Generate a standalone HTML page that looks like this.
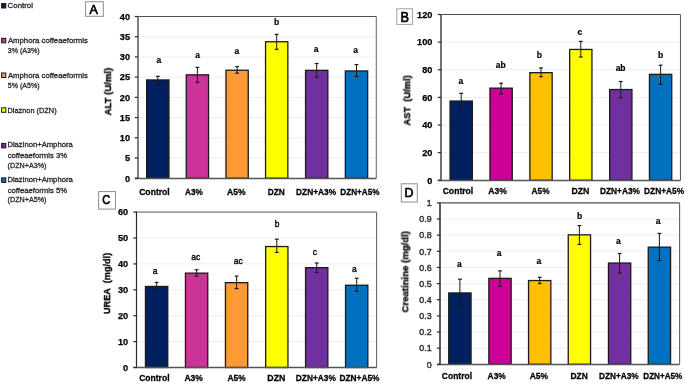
<!DOCTYPE html>
<html><head><meta charset="utf-8"><title>Chart</title>
<style>
html,body{margin:0;padding:0;background:#fff;}
body{width:685px;height:383px;overflow:hidden;}
svg{display:block;font-family:"Liberation Sans", sans-serif;}
text{will-change:transform;}
</style></head>
<body>
<svg width="685" height="383" viewBox="0 0 685 383">
<rect x="0" y="0" width="685" height="383" fill="#fff"/>
<line x1="139.00" y1="157.99" x2="375.30" y2="157.99" stroke="#ECECEC" stroke-width="0.9"/>
<line x1="139.00" y1="137.77" x2="375.30" y2="137.77" stroke="#ECECEC" stroke-width="0.9"/>
<line x1="139.00" y1="117.56" x2="375.30" y2="117.56" stroke="#ECECEC" stroke-width="0.9"/>
<line x1="139.00" y1="97.35" x2="375.30" y2="97.35" stroke="#ECECEC" stroke-width="0.9"/>
<line x1="139.00" y1="77.14" x2="375.30" y2="77.14" stroke="#ECECEC" stroke-width="0.9"/>
<line x1="139.00" y1="56.92" x2="375.30" y2="56.92" stroke="#ECECEC" stroke-width="0.9"/>
<line x1="139.00" y1="36.71" x2="375.30" y2="36.71" stroke="#ECECEC" stroke-width="0.9"/>
<rect x="146.65" y="79.95" width="22.30" height="98.25" fill="#002060" stroke="#1a1a1a" stroke-width="1.3"/>
<rect x="186.25" y="74.85" width="22.30" height="103.35" fill="#CC3399" stroke="#1a1a1a" stroke-width="1.3"/>
<rect x="225.95" y="70.25" width="22.30" height="107.95" fill="#FF9933" stroke="#1a1a1a" stroke-width="1.3"/>
<rect x="265.55" y="41.75" width="22.30" height="136.45" fill="#FFFF00" stroke="#1a1a1a" stroke-width="1.3"/>
<rect x="305.55" y="70.35" width="22.30" height="107.85" fill="#7030A0" stroke="#1a1a1a" stroke-width="1.3"/>
<rect x="345.35" y="70.95" width="22.30" height="107.25" fill="#0070C0" stroke="#1a1a1a" stroke-width="1.3"/>
<line x1="157.80" y1="76.30" x2="157.80" y2="84.10" stroke="#1a1a1a" stroke-width="1.0"/>
<line x1="155.90" y1="76.30" x2="159.70" y2="76.30" stroke="#1a1a1a" stroke-width="1.2"/>
<line x1="155.90" y1="84.10" x2="159.70" y2="84.10" stroke="#1a1a1a" stroke-width="1.2"/>
<line x1="197.40" y1="67.40" x2="197.40" y2="82.30" stroke="#1a1a1a" stroke-width="1.0"/>
<line x1="195.50" y1="67.40" x2="199.30" y2="67.40" stroke="#1a1a1a" stroke-width="1.2"/>
<line x1="195.50" y1="82.30" x2="199.30" y2="82.30" stroke="#1a1a1a" stroke-width="1.2"/>
<line x1="237.10" y1="66.60" x2="237.10" y2="73.20" stroke="#1a1a1a" stroke-width="1.0"/>
<line x1="235.20" y1="66.60" x2="239.00" y2="66.60" stroke="#1a1a1a" stroke-width="1.2"/>
<line x1="235.20" y1="73.20" x2="239.00" y2="73.20" stroke="#1a1a1a" stroke-width="1.2"/>
<line x1="276.70" y1="34.40" x2="276.70" y2="49.30" stroke="#1a1a1a" stroke-width="1.0"/>
<line x1="274.80" y1="34.40" x2="278.60" y2="34.40" stroke="#1a1a1a" stroke-width="1.2"/>
<line x1="274.80" y1="49.30" x2="278.60" y2="49.30" stroke="#1a1a1a" stroke-width="1.2"/>
<line x1="316.70" y1="63.50" x2="316.70" y2="77.20" stroke="#1a1a1a" stroke-width="1.0"/>
<line x1="314.80" y1="63.50" x2="318.60" y2="63.50" stroke="#1a1a1a" stroke-width="1.2"/>
<line x1="314.80" y1="77.20" x2="318.60" y2="77.20" stroke="#1a1a1a" stroke-width="1.2"/>
<line x1="356.50" y1="64.60" x2="356.50" y2="76.50" stroke="#1a1a1a" stroke-width="1.0"/>
<line x1="354.60" y1="64.60" x2="358.40" y2="64.60" stroke="#1a1a1a" stroke-width="1.2"/>
<line x1="354.60" y1="76.50" x2="358.40" y2="76.50" stroke="#1a1a1a" stroke-width="1.2"/>
<line x1="138.00" y1="16.50" x2="376.30" y2="16.50" stroke="#505050" stroke-width="1.1"/>
<line x1="376.30" y1="16.50" x2="376.30" y2="178.20" stroke="#707070" stroke-width="1.1"/>
<line x1="138.00" y1="16.00" x2="138.00" y2="179.00" stroke="#727272" stroke-width="1.8"/>
<line x1="135.00" y1="178.50" x2="376.30" y2="178.50" stroke="#555" stroke-width="1.3"/>
<line x1="134.80" y1="178.20" x2="138.00" y2="178.20" stroke="#2a2a2a" stroke-width="1.2"/>
<line x1="134.80" y1="157.99" x2="138.00" y2="157.99" stroke="#2a2a2a" stroke-width="1.2"/>
<line x1="134.80" y1="137.77" x2="138.00" y2="137.77" stroke="#2a2a2a" stroke-width="1.2"/>
<line x1="134.80" y1="117.56" x2="138.00" y2="117.56" stroke="#2a2a2a" stroke-width="1.2"/>
<line x1="134.80" y1="97.35" x2="138.00" y2="97.35" stroke="#2a2a2a" stroke-width="1.2"/>
<line x1="134.80" y1="77.14" x2="138.00" y2="77.14" stroke="#2a2a2a" stroke-width="1.2"/>
<line x1="134.80" y1="56.92" x2="138.00" y2="56.92" stroke="#2a2a2a" stroke-width="1.2"/>
<line x1="134.80" y1="36.71" x2="138.00" y2="36.71" stroke="#2a2a2a" stroke-width="1.2"/>
<line x1="134.80" y1="16.50" x2="138.00" y2="16.50" stroke="#2a2a2a" stroke-width="1.2"/>
<text x="130.00" y="181.50" font-size="9.2" font-weight="bold" text-anchor="end" fill="#000" stroke="#000" stroke-width="0.25">0</text>
<text x="130.00" y="161.29" font-size="9.2" font-weight="bold" text-anchor="end" fill="#000" stroke="#000" stroke-width="0.25">5</text>
<text x="130.00" y="141.07" font-size="9.2" font-weight="bold" text-anchor="end" fill="#000" stroke="#000" stroke-width="0.25">10</text>
<text x="130.00" y="120.86" font-size="9.2" font-weight="bold" text-anchor="end" fill="#000" stroke="#000" stroke-width="0.25">15</text>
<text x="130.00" y="100.65" font-size="9.2" font-weight="bold" text-anchor="end" fill="#000" stroke="#000" stroke-width="0.25">20</text>
<text x="130.00" y="80.44" font-size="9.2" font-weight="bold" text-anchor="end" fill="#000" stroke="#000" stroke-width="0.25">25</text>
<text x="130.00" y="60.22" font-size="9.2" font-weight="bold" text-anchor="end" fill="#000" stroke="#000" stroke-width="0.25">30</text>
<text x="130.00" y="40.01" font-size="9.2" font-weight="bold" text-anchor="end" fill="#000" stroke="#000" stroke-width="0.25">35</text>
<text x="130.00" y="19.80" font-size="9.2" font-weight="bold" text-anchor="end" fill="#000" stroke="#000" stroke-width="0.25">40</text>
<text x="158.80" y="62.50" font-size="8.5" font-weight="bold" text-anchor="middle" fill="#000" stroke="#000" stroke-width="0.2">a</text>
<text x="197.60" y="58.10" font-size="8.5" font-weight="bold" text-anchor="middle" fill="#000" stroke="#000" stroke-width="0.2">a</text>
<text x="236.90" y="53.80" font-size="8.5" font-weight="bold" text-anchor="middle" fill="#000" stroke="#000" stroke-width="0.2">a</text>
<text x="276.60" y="25.00" font-size="8.5" font-weight="bold" text-anchor="middle" fill="#000" stroke="#000" stroke-width="0.2">b</text>
<text x="316.10" y="52.20" font-size="8.5" font-weight="bold" text-anchor="middle" fill="#000" stroke="#000" stroke-width="0.2">a</text>
<text x="355.60" y="53.10" font-size="8.5" font-weight="bold" text-anchor="middle" fill="#000" stroke="#000" stroke-width="0.2">a</text>
<text x="139.16" y="195.20" font-size="9.8" font-weight="bold" fill="#000" stroke="#000" stroke-width="0.3" textLength="30.59" lengthAdjust="spacingAndGlyphs">Control</text>
<text x="184.99" y="195.20" font-size="9.8" font-weight="bold" fill="#000" stroke="#000" stroke-width="0.3" textLength="17.79" lengthAdjust="spacingAndGlyphs">A3%</text>
<text x="227.09" y="195.20" font-size="9.8" font-weight="bold" fill="#000" stroke="#000" stroke-width="0.3" textLength="18.61" lengthAdjust="spacingAndGlyphs">A5%</text>
<text x="267.66" y="195.20" font-size="9.8" font-weight="bold" fill="#000" stroke="#000" stroke-width="0.3" textLength="17.08" lengthAdjust="spacingAndGlyphs">DZN</text>
<text x="296.06" y="195.20" font-size="9.8" font-weight="bold" fill="#000" stroke="#000" stroke-width="0.3" textLength="40.12" lengthAdjust="spacingAndGlyphs">DZN+A3%</text>
<text x="340.27" y="195.20" font-size="9.8" font-weight="bold" fill="#000" stroke="#000" stroke-width="0.3" textLength="39.21" lengthAdjust="spacingAndGlyphs">DZN+A5%</text>
<text x="0" y="0" font-size="9.8" font-weight="bold" fill="#000" stroke="#000" stroke-width="0.3" textLength="47.57" lengthAdjust="spacingAndGlyphs" transform="translate(111.10,115.44) rotate(-90)">ALT (U/ml)</text>
<rect x="85.60" y="1.70" width="17.70" height="14.60" fill="#fff" stroke="#8c8c8c" stroke-width="1.0"/>
<text x="89.44" y="13.70" font-size="13.0" font-weight="normal" fill="#000" stroke="#000" stroke-width="0.7" textLength="8.29" lengthAdjust="spacingAndGlyphs">A</text>
<line x1="442.00" y1="152.67" x2="679.50" y2="152.67" stroke="#ECECEC" stroke-width="0.9"/>
<line x1="442.00" y1="125.03" x2="679.50" y2="125.03" stroke="#ECECEC" stroke-width="0.9"/>
<line x1="442.00" y1="97.40" x2="679.50" y2="97.40" stroke="#ECECEC" stroke-width="0.9"/>
<line x1="442.00" y1="69.77" x2="679.50" y2="69.77" stroke="#ECECEC" stroke-width="0.9"/>
<line x1="442.00" y1="42.13" x2="679.50" y2="42.13" stroke="#ECECEC" stroke-width="0.9"/>
<rect x="450.05" y="101.05" width="22.30" height="79.25" fill="#002060" stroke="#1a1a1a" stroke-width="1.3"/>
<rect x="489.95" y="88.15" width="22.30" height="92.15" fill="#CC0099" stroke="#1a1a1a" stroke-width="1.3"/>
<rect x="529.85" y="72.65" width="22.30" height="107.65" fill="#FFC000" stroke="#1a1a1a" stroke-width="1.3"/>
<rect x="569.65" y="49.45" width="22.30" height="130.85" fill="#FFFF00" stroke="#1a1a1a" stroke-width="1.3"/>
<rect x="609.65" y="89.55" width="22.30" height="90.75" fill="#7030A0" stroke="#1a1a1a" stroke-width="1.3"/>
<rect x="649.45" y="74.35" width="22.30" height="105.95" fill="#0070C0" stroke="#1a1a1a" stroke-width="1.3"/>
<line x1="461.20" y1="93.30" x2="461.20" y2="108.70" stroke="#1a1a1a" stroke-width="1.0"/>
<line x1="459.30" y1="93.30" x2="463.10" y2="93.30" stroke="#1a1a1a" stroke-width="1.2"/>
<line x1="459.30" y1="108.70" x2="463.10" y2="108.70" stroke="#1a1a1a" stroke-width="1.2"/>
<line x1="501.10" y1="83.20" x2="501.10" y2="93.80" stroke="#1a1a1a" stroke-width="1.0"/>
<line x1="499.20" y1="83.20" x2="503.00" y2="83.20" stroke="#1a1a1a" stroke-width="1.2"/>
<line x1="499.20" y1="93.80" x2="503.00" y2="93.80" stroke="#1a1a1a" stroke-width="1.2"/>
<line x1="541.00" y1="67.90" x2="541.00" y2="76.70" stroke="#1a1a1a" stroke-width="1.0"/>
<line x1="539.10" y1="67.90" x2="542.90" y2="67.90" stroke="#1a1a1a" stroke-width="1.2"/>
<line x1="539.10" y1="76.70" x2="542.90" y2="76.70" stroke="#1a1a1a" stroke-width="1.2"/>
<line x1="580.80" y1="41.40" x2="580.80" y2="57.00" stroke="#1a1a1a" stroke-width="1.0"/>
<line x1="578.90" y1="41.40" x2="582.70" y2="41.40" stroke="#1a1a1a" stroke-width="1.2"/>
<line x1="578.90" y1="57.00" x2="582.70" y2="57.00" stroke="#1a1a1a" stroke-width="1.2"/>
<line x1="620.80" y1="81.50" x2="620.80" y2="97.80" stroke="#1a1a1a" stroke-width="1.0"/>
<line x1="618.90" y1="81.50" x2="622.70" y2="81.50" stroke="#1a1a1a" stroke-width="1.2"/>
<line x1="618.90" y1="97.80" x2="622.70" y2="97.80" stroke="#1a1a1a" stroke-width="1.2"/>
<line x1="660.60" y1="65.20" x2="660.60" y2="84.30" stroke="#1a1a1a" stroke-width="1.0"/>
<line x1="658.70" y1="65.20" x2="662.50" y2="65.20" stroke="#1a1a1a" stroke-width="1.2"/>
<line x1="658.70" y1="84.30" x2="662.50" y2="84.30" stroke="#1a1a1a" stroke-width="1.2"/>
<line x1="441.00" y1="14.50" x2="680.50" y2="14.50" stroke="#505050" stroke-width="1.1"/>
<line x1="680.50" y1="14.50" x2="680.50" y2="180.30" stroke="#606060" stroke-width="1.1"/>
<line x1="441.00" y1="14.00" x2="441.00" y2="181.00" stroke="#626262" stroke-width="1.8"/>
<line x1="438.00" y1="180.50" x2="680.50" y2="180.50" stroke="#555" stroke-width="1.3"/>
<line x1="437.80" y1="180.30" x2="441.00" y2="180.30" stroke="#2a2a2a" stroke-width="1.2"/>
<line x1="437.80" y1="152.67" x2="441.00" y2="152.67" stroke="#2a2a2a" stroke-width="1.2"/>
<line x1="437.80" y1="125.03" x2="441.00" y2="125.03" stroke="#2a2a2a" stroke-width="1.2"/>
<line x1="437.80" y1="97.40" x2="441.00" y2="97.40" stroke="#2a2a2a" stroke-width="1.2"/>
<line x1="437.80" y1="69.77" x2="441.00" y2="69.77" stroke="#2a2a2a" stroke-width="1.2"/>
<line x1="437.80" y1="42.13" x2="441.00" y2="42.13" stroke="#2a2a2a" stroke-width="1.2"/>
<line x1="437.80" y1="14.50" x2="441.00" y2="14.50" stroke="#2a2a2a" stroke-width="1.2"/>
<text x="432.40" y="183.60" font-size="9.2" font-weight="bold" text-anchor="end" fill="#000" stroke="#000" stroke-width="0.25">0</text>
<text x="432.40" y="155.97" font-size="9.2" font-weight="bold" text-anchor="end" fill="#000" stroke="#000" stroke-width="0.25">20</text>
<text x="432.40" y="128.33" font-size="9.2" font-weight="bold" text-anchor="end" fill="#000" stroke="#000" stroke-width="0.25">40</text>
<text x="432.40" y="100.70" font-size="9.2" font-weight="bold" text-anchor="end" fill="#000" stroke="#000" stroke-width="0.25">60</text>
<text x="432.40" y="73.07" font-size="9.2" font-weight="bold" text-anchor="end" fill="#000" stroke="#000" stroke-width="0.25">80</text>
<text x="432.40" y="45.43" font-size="9.2" font-weight="bold" text-anchor="end" fill="#000" stroke="#000" stroke-width="0.25">100</text>
<text x="432.40" y="17.80" font-size="9.2" font-weight="bold" text-anchor="end" fill="#000" stroke="#000" stroke-width="0.25">120</text>
<text x="460.80" y="83.80" font-size="8.5" font-weight="bold" text-anchor="middle" fill="#000" stroke="#000" stroke-width="0.2">a</text>
<text x="500.70" y="68.10" font-size="8.5" font-weight="bold" text-anchor="middle" fill="#000" stroke="#000" stroke-width="0.2">ab</text>
<text x="539.30" y="57.60" font-size="8.5" font-weight="bold" text-anchor="middle" fill="#000" stroke="#000" stroke-width="0.2">b</text>
<text x="579.90" y="35.30" font-size="8.5" font-weight="bold" text-anchor="middle" fill="#000" stroke="#000" stroke-width="0.2">c</text>
<text x="620.60" y="70.50" font-size="8.5" font-weight="bold" text-anchor="middle" fill="#000" stroke="#000" stroke-width="0.2">ab</text>
<text x="660.50" y="58.00" font-size="8.5" font-weight="bold" text-anchor="middle" fill="#000" stroke="#000" stroke-width="0.2">b</text>
<text x="442.66" y="194.10" font-size="9.8" font-weight="bold" fill="#000" stroke="#000" stroke-width="0.3" textLength="30.59" lengthAdjust="spacingAndGlyphs">Control</text>
<text x="488.29" y="194.10" font-size="9.8" font-weight="bold" fill="#000" stroke="#000" stroke-width="0.3" textLength="18.61" lengthAdjust="spacingAndGlyphs">A3%</text>
<text x="531.59" y="194.10" font-size="9.8" font-weight="bold" fill="#000" stroke="#000" stroke-width="0.3" textLength="17.99" lengthAdjust="spacingAndGlyphs">A5%</text>
<text x="571.54" y="194.10" font-size="9.8" font-weight="bold" fill="#000" stroke="#000" stroke-width="0.3" textLength="17.83" lengthAdjust="spacingAndGlyphs">DZN</text>
<text x="599.96" y="194.10" font-size="9.8" font-weight="bold" fill="#000" stroke="#000" stroke-width="0.3" textLength="40.02" lengthAdjust="spacingAndGlyphs">DZN+A3%</text>
<text x="644.06" y="194.10" font-size="9.8" font-weight="bold" fill="#000" stroke="#000" stroke-width="0.3" textLength="40.12" lengthAdjust="spacingAndGlyphs">DZN+A5%</text>
<text x="0" y="0" font-size="9.8" font-weight="bold" fill="#000" stroke="#000" stroke-width="0.3" textLength="50.29" lengthAdjust="spacingAndGlyphs" transform="translate(410.20,125.53) rotate(-90)">AST&#160;&#160;(U/ml)</text>
<rect x="396.80" y="8.80" width="15.60" height="15.60" fill="#fff" stroke="#a0a0a0" stroke-width="1.0"/>
<text x="400.38" y="21.70" font-size="13.8" font-weight="normal" fill="#000" stroke="#000" stroke-width="0.7" textLength="8.48" lengthAdjust="spacingAndGlyphs">B</text>
<line x1="137.50" y1="341.60" x2="375.60" y2="341.60" stroke="#ECECEC" stroke-width="0.9"/>
<line x1="137.50" y1="315.70" x2="375.60" y2="315.70" stroke="#ECECEC" stroke-width="0.9"/>
<line x1="137.50" y1="289.80" x2="375.60" y2="289.80" stroke="#ECECEC" stroke-width="0.9"/>
<line x1="137.50" y1="263.90" x2="375.60" y2="263.90" stroke="#ECECEC" stroke-width="0.9"/>
<line x1="137.50" y1="238.00" x2="375.60" y2="238.00" stroke="#ECECEC" stroke-width="0.9"/>
<rect x="145.45" y="286.45" width="22.30" height="81.05" fill="#002060" stroke="#1a1a1a" stroke-width="1.3"/>
<rect x="185.45" y="273.15" width="22.30" height="94.35" fill="#CC3399" stroke="#1a1a1a" stroke-width="1.3"/>
<rect x="225.45" y="282.65" width="22.30" height="84.85" fill="#FF9933" stroke="#1a1a1a" stroke-width="1.3"/>
<rect x="265.65" y="246.55" width="22.30" height="120.95" fill="#FFFF00" stroke="#1a1a1a" stroke-width="1.3"/>
<rect x="305.55" y="267.65" width="22.30" height="99.85" fill="#7030A0" stroke="#1a1a1a" stroke-width="1.3"/>
<rect x="345.55" y="285.25" width="22.30" height="82.25" fill="#0070C0" stroke="#1a1a1a" stroke-width="1.3"/>
<line x1="156.60" y1="282.40" x2="156.60" y2="290.20" stroke="#1a1a1a" stroke-width="1.0"/>
<line x1="154.70" y1="282.40" x2="158.50" y2="282.40" stroke="#1a1a1a" stroke-width="1.2"/>
<line x1="154.70" y1="290.20" x2="158.50" y2="290.20" stroke="#1a1a1a" stroke-width="1.2"/>
<line x1="196.60" y1="269.70" x2="196.60" y2="276.10" stroke="#1a1a1a" stroke-width="1.0"/>
<line x1="194.70" y1="269.70" x2="198.50" y2="269.70" stroke="#1a1a1a" stroke-width="1.2"/>
<line x1="194.70" y1="276.10" x2="198.50" y2="276.10" stroke="#1a1a1a" stroke-width="1.2"/>
<line x1="236.60" y1="276.10" x2="236.60" y2="288.60" stroke="#1a1a1a" stroke-width="1.0"/>
<line x1="234.70" y1="276.10" x2="238.50" y2="276.10" stroke="#1a1a1a" stroke-width="1.2"/>
<line x1="234.70" y1="288.60" x2="238.50" y2="288.60" stroke="#1a1a1a" stroke-width="1.2"/>
<line x1="276.80" y1="239.20" x2="276.80" y2="252.40" stroke="#1a1a1a" stroke-width="1.0"/>
<line x1="274.90" y1="239.20" x2="278.70" y2="239.20" stroke="#1a1a1a" stroke-width="1.2"/>
<line x1="274.90" y1="252.40" x2="278.70" y2="252.40" stroke="#1a1a1a" stroke-width="1.2"/>
<line x1="316.70" y1="263.00" x2="316.70" y2="272.40" stroke="#1a1a1a" stroke-width="1.0"/>
<line x1="314.80" y1="263.00" x2="318.60" y2="263.00" stroke="#1a1a1a" stroke-width="1.2"/>
<line x1="314.80" y1="272.40" x2="318.60" y2="272.40" stroke="#1a1a1a" stroke-width="1.2"/>
<line x1="356.70" y1="278.30" x2="356.70" y2="291.30" stroke="#1a1a1a" stroke-width="1.0"/>
<line x1="354.80" y1="278.30" x2="358.60" y2="278.30" stroke="#1a1a1a" stroke-width="1.2"/>
<line x1="354.80" y1="291.30" x2="358.60" y2="291.30" stroke="#1a1a1a" stroke-width="1.2"/>
<line x1="136.50" y1="212.10" x2="376.60" y2="212.10" stroke="#a0a0a0" stroke-width="1.6"/>
<line x1="376.60" y1="212.10" x2="376.60" y2="367.50" stroke="#666" stroke-width="1.1"/>
<line x1="136.50" y1="211.60" x2="136.50" y2="368.00" stroke="#2a2a2a" stroke-width="1.2"/>
<line x1="133.50" y1="367.50" x2="376.60" y2="367.50" stroke="#555" stroke-width="1.3"/>
<line x1="133.30" y1="367.50" x2="136.50" y2="367.50" stroke="#2a2a2a" stroke-width="1.2"/>
<line x1="133.30" y1="341.60" x2="136.50" y2="341.60" stroke="#2a2a2a" stroke-width="1.2"/>
<line x1="133.30" y1="315.70" x2="136.50" y2="315.70" stroke="#2a2a2a" stroke-width="1.2"/>
<line x1="133.30" y1="289.80" x2="136.50" y2="289.80" stroke="#2a2a2a" stroke-width="1.2"/>
<line x1="133.30" y1="263.90" x2="136.50" y2="263.90" stroke="#2a2a2a" stroke-width="1.2"/>
<line x1="133.30" y1="238.00" x2="136.50" y2="238.00" stroke="#2a2a2a" stroke-width="1.2"/>
<line x1="133.30" y1="212.10" x2="136.50" y2="212.10" stroke="#2a2a2a" stroke-width="1.2"/>
<text x="128.20" y="370.80" font-size="9.2" font-weight="bold" text-anchor="end" fill="#000" stroke="#000" stroke-width="0.25">0</text>
<text x="128.20" y="344.90" font-size="9.2" font-weight="bold" text-anchor="end" fill="#000" stroke="#000" stroke-width="0.25">10</text>
<text x="128.20" y="319.00" font-size="9.2" font-weight="bold" text-anchor="end" fill="#000" stroke="#000" stroke-width="0.25">20</text>
<text x="128.20" y="293.10" font-size="9.2" font-weight="bold" text-anchor="end" fill="#000" stroke="#000" stroke-width="0.25">30</text>
<text x="128.20" y="267.20" font-size="9.2" font-weight="bold" text-anchor="end" fill="#000" stroke="#000" stroke-width="0.25">40</text>
<text x="128.20" y="241.30" font-size="9.2" font-weight="bold" text-anchor="end" fill="#000" stroke="#000" stroke-width="0.25">50</text>
<text x="128.20" y="215.40" font-size="9.2" font-weight="bold" text-anchor="end" fill="#000" stroke="#000" stroke-width="0.25">60</text>
<text x="155.00" y="273.80" font-size="8.5" font-weight="normal" text-anchor="middle" fill="#000" stroke="#000" stroke-width="0.35">a</text>
<text x="195.80" y="259.80" font-size="8.5" font-weight="normal" text-anchor="middle" fill="#000" stroke="#000" stroke-width="0.35">ac</text>
<text x="238.30" y="264.00" font-size="8.5" font-weight="normal" text-anchor="middle" fill="#000" stroke="#000" stroke-width="0.35">ac</text>
<text x="277.00" y="226.50" font-size="8.5" font-weight="normal" text-anchor="middle" fill="#000" stroke="#000" stroke-width="0.35">b</text>
<text x="314.90" y="255.00" font-size="8.5" font-weight="normal" text-anchor="middle" fill="#000" stroke="#000" stroke-width="0.35">c</text>
<text x="354.40" y="271.90" font-size="8.5" font-weight="normal" text-anchor="middle" fill="#000" stroke="#000" stroke-width="0.35">a</text>
<text x="139.16" y="381.10" font-size="9.8" font-weight="bold" fill="#000" stroke="#000" stroke-width="0.3" textLength="30.38" lengthAdjust="spacingAndGlyphs">Control</text>
<text x="184.39" y="381.10" font-size="9.8" font-weight="bold" fill="#000" stroke="#000" stroke-width="0.3" textLength="18.51" lengthAdjust="spacingAndGlyphs">A3%</text>
<text x="227.49" y="381.10" font-size="9.8" font-weight="bold" fill="#000" stroke="#000" stroke-width="0.3" textLength="18.10" lengthAdjust="spacingAndGlyphs">A5%</text>
<text x="267.33" y="381.10" font-size="9.8" font-weight="bold" fill="#000" stroke="#000" stroke-width="0.3" textLength="18.04" lengthAdjust="spacingAndGlyphs">DZN</text>
<text x="295.86" y="381.10" font-size="9.8" font-weight="bold" fill="#000" stroke="#000" stroke-width="0.3" textLength="39.92" lengthAdjust="spacingAndGlyphs">DZN+A3%</text>
<text x="339.46" y="381.10" font-size="9.8" font-weight="bold" fill="#000" stroke="#000" stroke-width="0.3" textLength="40.02" lengthAdjust="spacingAndGlyphs">DZN+A5%</text>
<text x="0" y="0" font-size="9.8" font-weight="bold" fill="#000" stroke="#000" stroke-width="0.3" textLength="61.17" lengthAdjust="spacingAndGlyphs" transform="translate(110.10,314.05) rotate(-90)">UREA&#160;&#160;(mg/dl)</text>
<rect x="98.60" y="191.60" width="16.90" height="17.50" fill="#fff" stroke="#8c8c8c" stroke-width="1.0"/>
<text x="102.14" y="203.80" font-size="13.2" font-weight="normal" fill="#000" stroke="#000" stroke-width="0.7" textLength="8.02" lengthAdjust="spacingAndGlyphs">C</text>
<line x1="441.10" y1="348.16" x2="678.60" y2="348.16" stroke="#ECECEC" stroke-width="0.9"/>
<line x1="441.10" y1="332.02" x2="678.60" y2="332.02" stroke="#ECECEC" stroke-width="0.9"/>
<line x1="441.10" y1="315.88" x2="678.60" y2="315.88" stroke="#ECECEC" stroke-width="0.9"/>
<line x1="441.10" y1="299.74" x2="678.60" y2="299.74" stroke="#ECECEC" stroke-width="0.9"/>
<line x1="441.10" y1="283.60" x2="678.60" y2="283.60" stroke="#ECECEC" stroke-width="0.9"/>
<line x1="441.10" y1="267.46" x2="678.60" y2="267.46" stroke="#ECECEC" stroke-width="0.9"/>
<line x1="441.10" y1="251.32" x2="678.60" y2="251.32" stroke="#ECECEC" stroke-width="0.9"/>
<line x1="441.10" y1="235.18" x2="678.60" y2="235.18" stroke="#ECECEC" stroke-width="0.9"/>
<line x1="441.10" y1="219.04" x2="678.60" y2="219.04" stroke="#ECECEC" stroke-width="0.9"/>
<rect x="448.75" y="292.95" width="22.30" height="71.35" fill="#002060" stroke="#1a1a1a" stroke-width="1.3"/>
<rect x="488.85" y="278.35" width="22.30" height="85.95" fill="#CC0099" stroke="#1a1a1a" stroke-width="1.3"/>
<rect x="528.55" y="280.55" width="22.30" height="83.75" fill="#FFC000" stroke="#1a1a1a" stroke-width="1.3"/>
<rect x="568.25" y="234.85" width="22.30" height="129.45" fill="#FFFF00" stroke="#1a1a1a" stroke-width="1.3"/>
<rect x="608.45" y="263.05" width="22.30" height="101.25" fill="#7030A0" stroke="#1a1a1a" stroke-width="1.3"/>
<rect x="648.25" y="247.15" width="22.30" height="117.15" fill="#0070C0" stroke="#1a1a1a" stroke-width="1.3"/>
<line x1="459.90" y1="279.20" x2="459.90" y2="305.80" stroke="#1a1a1a" stroke-width="1.0"/>
<line x1="458.00" y1="279.20" x2="461.80" y2="279.20" stroke="#1a1a1a" stroke-width="1.2"/>
<line x1="458.00" y1="305.80" x2="461.80" y2="305.80" stroke="#1a1a1a" stroke-width="1.2"/>
<line x1="500.00" y1="270.90" x2="500.00" y2="286.30" stroke="#1a1a1a" stroke-width="1.0"/>
<line x1="498.10" y1="270.90" x2="501.90" y2="270.90" stroke="#1a1a1a" stroke-width="1.2"/>
<line x1="498.10" y1="286.30" x2="501.90" y2="286.30" stroke="#1a1a1a" stroke-width="1.2"/>
<line x1="539.70" y1="277.30" x2="539.70" y2="283.60" stroke="#1a1a1a" stroke-width="1.0"/>
<line x1="537.80" y1="277.30" x2="541.60" y2="277.30" stroke="#1a1a1a" stroke-width="1.2"/>
<line x1="537.80" y1="283.60" x2="541.60" y2="283.60" stroke="#1a1a1a" stroke-width="1.2"/>
<line x1="579.40" y1="225.60" x2="579.40" y2="244.40" stroke="#1a1a1a" stroke-width="1.0"/>
<line x1="577.50" y1="225.60" x2="581.30" y2="225.60" stroke="#1a1a1a" stroke-width="1.2"/>
<line x1="577.50" y1="244.40" x2="581.30" y2="244.40" stroke="#1a1a1a" stroke-width="1.2"/>
<line x1="619.60" y1="253.50" x2="619.60" y2="273.10" stroke="#1a1a1a" stroke-width="1.0"/>
<line x1="617.70" y1="253.50" x2="621.50" y2="253.50" stroke="#1a1a1a" stroke-width="1.2"/>
<line x1="617.70" y1="273.10" x2="621.50" y2="273.10" stroke="#1a1a1a" stroke-width="1.2"/>
<line x1="659.40" y1="233.40" x2="659.40" y2="260.60" stroke="#1a1a1a" stroke-width="1.0"/>
<line x1="657.50" y1="233.40" x2="661.30" y2="233.40" stroke="#1a1a1a" stroke-width="1.2"/>
<line x1="657.50" y1="260.60" x2="661.30" y2="260.60" stroke="#1a1a1a" stroke-width="1.2"/>
<line x1="440.10" y1="202.90" x2="679.60" y2="202.90" stroke="#505050" stroke-width="1.1"/>
<line x1="679.60" y1="202.90" x2="679.60" y2="364.30" stroke="#606060" stroke-width="1.1"/>
<line x1="440.00" y1="202.40" x2="440.00" y2="365.00" stroke="#404040" stroke-width="1.7"/>
<line x1="437.10" y1="364.50" x2="679.60" y2="364.50" stroke="#555" stroke-width="1.3"/>
<line x1="436.90" y1="364.30" x2="440.10" y2="364.30" stroke="#2a2a2a" stroke-width="1.2"/>
<line x1="436.90" y1="348.16" x2="440.10" y2="348.16" stroke="#2a2a2a" stroke-width="1.2"/>
<line x1="436.90" y1="332.02" x2="440.10" y2="332.02" stroke="#2a2a2a" stroke-width="1.2"/>
<line x1="436.90" y1="315.88" x2="440.10" y2="315.88" stroke="#2a2a2a" stroke-width="1.2"/>
<line x1="436.90" y1="299.74" x2="440.10" y2="299.74" stroke="#2a2a2a" stroke-width="1.2"/>
<line x1="436.90" y1="283.60" x2="440.10" y2="283.60" stroke="#2a2a2a" stroke-width="1.2"/>
<line x1="436.90" y1="267.46" x2="440.10" y2="267.46" stroke="#2a2a2a" stroke-width="1.2"/>
<line x1="436.90" y1="251.32" x2="440.10" y2="251.32" stroke="#2a2a2a" stroke-width="1.2"/>
<line x1="436.90" y1="235.18" x2="440.10" y2="235.18" stroke="#2a2a2a" stroke-width="1.2"/>
<line x1="436.90" y1="219.04" x2="440.10" y2="219.04" stroke="#2a2a2a" stroke-width="1.2"/>
<line x1="436.90" y1="202.90" x2="440.10" y2="202.90" stroke="#2a2a2a" stroke-width="1.2"/>
<text x="431.60" y="367.60" font-size="8.8" font-weight="normal" text-anchor="end" fill="#333" stroke="#333" stroke-width="0.45">0</text>
<text x="431.60" y="351.46" font-size="8.8" font-weight="normal" text-anchor="end" fill="#333" stroke="#333" stroke-width="0.45">0.1</text>
<text x="431.60" y="335.32" font-size="8.8" font-weight="normal" text-anchor="end" fill="#333" stroke="#333" stroke-width="0.45">0.2</text>
<text x="431.60" y="319.18" font-size="8.8" font-weight="normal" text-anchor="end" fill="#333" stroke="#333" stroke-width="0.45">0.3</text>
<text x="431.60" y="303.04" font-size="8.8" font-weight="normal" text-anchor="end" fill="#333" stroke="#333" stroke-width="0.45">0.4</text>
<text x="431.60" y="286.90" font-size="8.8" font-weight="normal" text-anchor="end" fill="#333" stroke="#333" stroke-width="0.45">0.5</text>
<text x="431.60" y="270.76" font-size="8.8" font-weight="normal" text-anchor="end" fill="#333" stroke="#333" stroke-width="0.45">0.6</text>
<text x="431.60" y="254.62" font-size="8.8" font-weight="normal" text-anchor="end" fill="#333" stroke="#333" stroke-width="0.45">0.7</text>
<text x="431.60" y="238.48" font-size="8.8" font-weight="normal" text-anchor="end" fill="#333" stroke="#333" stroke-width="0.45">0.8</text>
<text x="431.60" y="222.34" font-size="8.8" font-weight="normal" text-anchor="end" fill="#333" stroke="#333" stroke-width="0.45">0.9</text>
<text x="431.60" y="206.20" font-size="8.8" font-weight="normal" text-anchor="end" fill="#333" stroke="#333" stroke-width="0.45">1</text>
<text x="459.40" y="266.90" font-size="8.5" font-weight="bold" text-anchor="middle" fill="#000" stroke="#000" stroke-width="0.2">a</text>
<text x="499.10" y="255.70" font-size="8.5" font-weight="bold" text-anchor="middle" fill="#000" stroke="#000" stroke-width="0.2">a</text>
<text x="538.80" y="264.40" font-size="8.5" font-weight="bold" text-anchor="middle" fill="#000" stroke="#000" stroke-width="0.2">a</text>
<text x="579.50" y="218.70" font-size="8.5" font-weight="bold" text-anchor="middle" fill="#000" stroke="#000" stroke-width="0.2">b</text>
<text x="618.30" y="243.80" font-size="8.5" font-weight="bold" text-anchor="middle" fill="#000" stroke="#000" stroke-width="0.2">a</text>
<text x="658.00" y="224.30" font-size="8.5" font-weight="bold" text-anchor="middle" fill="#000" stroke="#000" stroke-width="0.2">a</text>
<text x="441.86" y="378.70" font-size="9.8" font-weight="bold" fill="#000" stroke="#000" stroke-width="0.3" textLength="30.17" lengthAdjust="spacingAndGlyphs">Control</text>
<text x="487.59" y="378.70" font-size="9.8" font-weight="bold" fill="#000" stroke="#000" stroke-width="0.3" textLength="18.20" lengthAdjust="spacingAndGlyphs">A3%</text>
<text x="529.69" y="378.70" font-size="9.8" font-weight="bold" fill="#000" stroke="#000" stroke-width="0.3" textLength="18.40" lengthAdjust="spacingAndGlyphs">A5%</text>
<text x="570.55" y="378.70" font-size="9.8" font-weight="bold" fill="#000" stroke="#000" stroke-width="0.3" textLength="17.30" lengthAdjust="spacingAndGlyphs">DZN</text>
<text x="599.06" y="378.70" font-size="9.8" font-weight="bold" fill="#000" stroke="#000" stroke-width="0.3" textLength="39.61" lengthAdjust="spacingAndGlyphs">DZN+A3%</text>
<text x="643.27" y="378.70" font-size="9.8" font-weight="bold" fill="#000" stroke="#000" stroke-width="0.3" textLength="39.00" lengthAdjust="spacingAndGlyphs">DZN+A5%</text>
<text x="0" y="0" font-size="9.8" font-weight="bold" fill="#000" stroke="#000" stroke-width="0.3" textLength="81.42" lengthAdjust="spacingAndGlyphs" transform="translate(408.30,312.48) rotate(-90)">Creatinine (mg/dl)</text>
<rect x="401.30" y="183.80" width="16.00" height="18.20" fill="#fff" stroke="#8c8c8c" stroke-width="1.0"/>
<text x="404.51" y="196.60" font-size="13.2" font-weight="normal" fill="#000" stroke="#000" stroke-width="0.7" textLength="8.98" lengthAdjust="spacingAndGlyphs">D</text>
<rect x="1.60" y="3.50" width="4.20" height="4.50" fill="#002060" stroke="#1a1a1a" stroke-width="1.0"/>
<text x="7.61" y="7.80" font-size="7.9" font-weight="normal" fill="#262626" stroke="#262626" stroke-width="0.3" textLength="25.33" lengthAdjust="spacingAndGlyphs">Control</text>
<rect x="1.60" y="38.30" width="4.20" height="4.50" fill="#CC3399" stroke="#1a1a1a" stroke-width="1.0"/>
<text x="7.96" y="42.90" font-size="7.9" font-weight="normal" fill="#262626" stroke="#262626" stroke-width="0.3" textLength="79.91" lengthAdjust="spacingAndGlyphs">Amphora coffeaeformis</text>
<text x="7.72" y="52.70" font-size="7.9" font-weight="normal" fill="#262626" stroke="#262626" stroke-width="0.3" textLength="31.92" lengthAdjust="spacingAndGlyphs">3% (A3%)</text>
<rect x="1.60" y="73.00" width="4.20" height="4.50" fill="#FF9933" stroke="#1a1a1a" stroke-width="1.0"/>
<text x="7.96" y="77.50" font-size="7.9" font-weight="normal" fill="#262626" stroke="#262626" stroke-width="0.3" textLength="79.91" lengthAdjust="spacingAndGlyphs">Amphora coffeaeformis</text>
<text x="7.72" y="87.60" font-size="7.9" font-weight="normal" fill="#262626" stroke="#262626" stroke-width="0.3" textLength="31.92" lengthAdjust="spacingAndGlyphs">5% (A5%)</text>
<rect x="1.60" y="107.80" width="4.20" height="4.50" fill="#FFFF00" stroke="#1a1a1a" stroke-width="1.0"/>
<text x="7.41" y="112.60" font-size="7.9" font-weight="normal" fill="#262626" stroke="#262626" stroke-width="0.3" textLength="49.26" lengthAdjust="spacingAndGlyphs">Diaznon (DZN)</text>
<rect x="1.60" y="143.40" width="4.20" height="4.50" fill="#7030A0" stroke="#1a1a1a" stroke-width="1.0"/>
<text x="7.39" y="147.40" font-size="7.9" font-weight="normal" fill="#262626" stroke="#262626" stroke-width="0.3" textLength="65.34" lengthAdjust="spacingAndGlyphs">Diazinon+Amphora</text>
<text x="7.65" y="157.50" font-size="7.9" font-weight="normal" fill="#262626" stroke="#262626" stroke-width="0.3" textLength="59.50" lengthAdjust="spacingAndGlyphs">coffeaeformis 3%</text>
<text x="7.57" y="167.60" font-size="7.9" font-weight="normal" fill="#262626" stroke="#262626" stroke-width="0.3" textLength="38.88" lengthAdjust="spacingAndGlyphs">(DZN+A3%)</text>
<rect x="1.60" y="177.90" width="4.20" height="4.50" fill="#0070C0" stroke="#1a1a1a" stroke-width="1.0"/>
<text x="7.39" y="182.40" font-size="7.9" font-weight="normal" fill="#262626" stroke="#262626" stroke-width="0.3" textLength="65.34" lengthAdjust="spacingAndGlyphs">Diazinon+Amphora</text>
<text x="7.65" y="192.50" font-size="7.9" font-weight="normal" fill="#262626" stroke="#262626" stroke-width="0.3" textLength="59.50" lengthAdjust="spacingAndGlyphs">coffeaeformis 5%</text>
<text x="7.57" y="202.40" font-size="7.9" font-weight="normal" fill="#262626" stroke="#262626" stroke-width="0.3" textLength="38.88" lengthAdjust="spacingAndGlyphs">(DZN+A5%)</text>
</svg>
</body></html>
